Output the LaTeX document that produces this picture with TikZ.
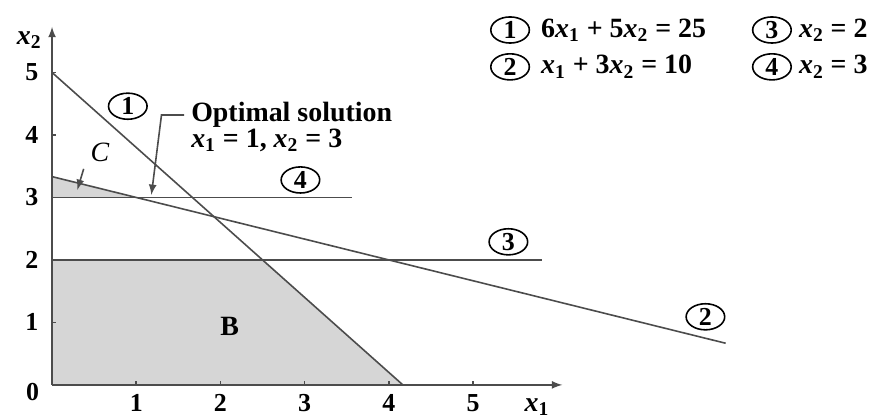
\documentclass[tikz,border=0pt]{standalone}
\usepackage{fontspec}
\setmainfont{Liberation Serif}
\usetikzlibrary{shapes.geometric}
\newcommand{\xs}[1]{\textit{x}\textsubscript{#1}}

\begin{document}
\begin{tikzpicture}[x=1.485cm, y=1.102cm, every node/.style={font=\bfseries\fontsize{14}{16}\selectfont},
    num/.style={draw, ellipse, thick, inner sep=0pt, minimum width=0.68cm, minimum height=0.46cm, font=\bfseries\fontsize{13}{14}\selectfont},
    tick/.style={font=\bfseries\fontsize{13}{15}\selectfont},
    ln/.style={black!70, thick}]
    \useasboundingbox (-0.618,-0.544) rectangle (9.881,6.16);
    % feasible regions
    \fill[black!16] (0,0) -- (0,2) -- (2.5,2) -- (25/6,0) -- cycle;
    \fill[black!16] (0,3) -- (0,10/3) -- (1,3) -- cycle;
    % axes
    \draw[ln, -latex] (0,0) -- (6.06,0);
    \draw[ln, -latex] (0,0) -- (0,5.73);
    \foreach \i in {1,...,5} {
        \draw[ln] (\i,0) -- (\i,0.06);
        \node[tick] (xt\i) at (\i,-0.29) {\i};
        \draw[ln] (0,\i) -- (0.05,\i);
        \node[tick] (yt\i) at (-0.24,\i) {\i};
    }
    \node[tick] (zero) at (-0.23,-0.11) {0};
    \node (xl) at (5.76,-0.35) {\xs{1}};
    \node (yl) at (-0.27,5.52) {\xs{2}};
    % constraint lines
    \draw[ln] (0,5) -- (25/6,0);
    \draw[ln] (0,10/3) -- (8,2/3);
    \draw[ln] (0,2) -- (5.82,2);
    \draw[ln] (0,3) -- (3.56,3);
    \node[num] (c1) at (0.9,4.46) {1};
    \node[num] (c2) at (7.76,1.09) {2};
    \node[num] (c3) at (5.42,2.29) {3};
    \node[num] (c4) at (2.95,3.28) {4};
    % region labels
    \node (lb) at (2.11,0.93) {B};
    \node[font=\itshape\fontsize{14}{16}\selectfont] (lc) at (0.57,3.72) {C};
    \coordinate (cpt) at (0.3,3.12);
    \draw[ln, -latex] (lc.south west) -- (cpt);
    % optimum
    \node[anchor=west] (opt) at (1.57,4.32) {Optimal solution};
    \node[anchor=west] (optv) at (1.57,3.92) {\xs{1} = 1, \xs{2} = 3};
    \coordinate (best) at (1.18,3.04);
    \draw[ln, -latex] (opt.west) -- ++(-0.27,0) -- (best);
    % legend
    \node[num] (k1) at (5.44,5.68) {1};
    \node[num] (k2) at (5.44,5.09) {2};
    \node[num] (k3) at (8.55,5.68) {3};
    \node[num] (k4) at (8.55,5.09) {4};
    \node[anchor=west, xshift=2pt] (e1) at (k1.east) {6\xs{1} + 5\xs{2} = 25};
    \node[anchor=west, xshift=2pt] (e2) at (k2.east) {\xs{1} + 3\xs{2} = 10};
    \node[anchor=west] (e3) at (k3.east) {\xs{2} = 2};
    \node[anchor=west] (e4) at (k4.east) {\xs{2} = 3};
\end{tikzpicture}
\end{document}
